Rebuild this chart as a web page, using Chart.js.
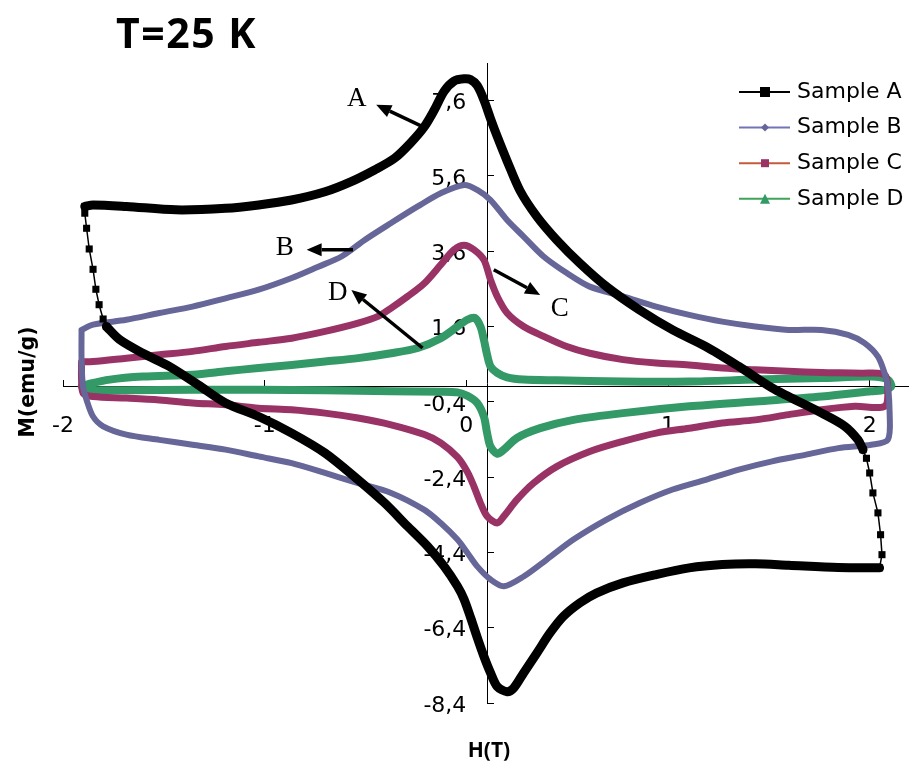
<!DOCTYPE html>
<html><head><meta charset="utf-8">
<script src="https://cdn.jsdelivr.net/npm/chart.js@4"></script>
<style>html,body{margin:0;padding:0;background:#fff;overflow:hidden}canvas{display:block}</style>
</head><body>
<canvas id="c" width="913" height="767"></canvas>
<script>
// ---- data (H in T, M in emu/g) ----
const seriesNames = ['Sample A', 'Sample B', 'Sample C', 'Sample D'];
const xTickValues = [-2, -1, 0, 1, 2];
const yTickValues = [-8.4, -6.4, -4.4, -2.4, -0.4, 1.6, 3.6, 5.6, 7.6];

const sampleA_upper = [[-1.892,4.79],[-1.851,4.83],[-1.686,4.79],[-1.440,4.70],[-1.194,4.74],[-1.030,4.83],[-0.867,4.96],[-0.701,5.18],[-0.571,5.45],[-0.455,5.76],[-0.356,6.07],[-0.276,6.48],[-0.208,6.91],[-0.159,7.35],[-0.110,7.85],[-0.061,8.12],[-0.011,8.18],[0.020,8.16],[0.054,8.00],[0.087,7.62],[0.120,7.12],[0.153,6.65],[0.202,6.00],[0.267,5.20],[0.350,4.52],[0.448,3.90],[0.563,3.28],[0.695,2.66],[0.859,2.04],[1.023,1.51],[1.187,1.07],[1.351,0.54],[1.516,-0.03],[1.598,-0.26],[1.762,-0.70],[1.877,-1.05],[1.942,-1.41],[1.967,-1.67]];
const sampleA_rightStep = [[1.967,-1.67],[1.984,-1.90],[2.000,-2.29],[2.016,-2.82],[2.041,-3.35],[2.054,-3.93],[2.061,-4.46],[2.049,-4.81]];
const sampleA_lower = [[2.049,-4.81],[1.844,-4.80],[1.598,-4.74],[1.433,-4.70],[1.269,-4.72],[1.105,-4.81],[0.941,-4.99],[0.777,-5.21],[0.645,-5.48],[0.563,-5.74],[0.481,-6.10],[0.415,-6.54],[0.350,-7.07],[0.284,-7.60],[0.235,-8.00],[0.202,-8.10],[0.153,-7.96],[0.120,-7.60],[0.087,-7.16],[0.054,-6.66],[0.021,-6.13],[-0.011,-5.65],[-0.044,-5.30],[-0.110,-4.77],[-0.192,-4.24],[-0.291,-3.71],[-0.405,-3.09],[-0.537,-2.47],[-0.701,-1.76],[-0.866,-1.23],[-1.030,-0.79],[-1.194,-0.43],[-1.330,0.05],[-1.473,0.54],[-1.604,0.89],[-1.719,1.25],[-1.785,1.60]];
const sampleA_leftStep = [[-1.785,1.60],[-1.801,1.80],[-1.821,2.18],[-1.837,2.59],[-1.851,3.12],[-1.870,3.66],[-1.883,4.21],[-1.892,4.61],[-1.892,4.79]];

const sampleB_loop = [[-1.908,1.51],[-1.851,1.65],[-1.686,1.78],[-1.522,1.96],[-1.358,2.13],[-1.194,2.35],[-1.030,2.58],[-0.866,2.89],[-0.734,3.19],[-0.619,3.46],[-0.504,3.90],[-0.373,4.35],[-0.241,4.79],[-0.127,5.14],[-0.011,5.36],[0.054,5.23],[0.120,4.96],[0.202,4.43],[0.284,3.99],[0.383,3.46],[0.498,3.02],[0.612,2.66],[0.777,2.40],[0.941,2.13],[1.105,1.91],[1.269,1.73],[1.433,1.60],[1.598,1.51],[1.762,1.51],[1.893,1.38],[1.975,1.16],[2.041,0.80],[2.074,0.36],[2.090,0.01],[2.099,-0.70],[2.090,-1.41],[2.008,-1.54],[1.844,-1.63],[1.680,-1.81],[1.516,-1.98],[1.351,-2.20],[1.187,-2.47],[1.023,-2.73],[0.859,-3.09],[0.695,-3.53],[0.531,-4.06],[0.399,-4.59],[0.284,-5.04],[0.186,-5.30],[0.120,-5.12],[0.054,-4.77],[0.005,-4.41],[-0.044,-4.06],[-0.127,-3.62],[-0.208,-3.27],[-0.373,-2.82],[-0.537,-2.56],[-0.701,-2.29],[-0.866,-2.03],[-1.030,-1.85],[-1.194,-1.67],[-1.358,-1.54],[-1.522,-1.41],[-1.686,-1.27],[-1.801,-1.05],[-1.851,-0.79],[-1.883,-0.35],[-1.901,0.01],[-1.908,0.72],[-1.908,1.51]];

const sampleC_loop = [[-1.908,0.66],[-1.851,0.67],[-1.686,0.76],[-1.522,0.85],[-1.358,0.94],[-1.194,1.07],[-1.030,1.18],[-0.866,1.29],[-0.701,1.47],[-0.537,1.69],[-0.438,1.87],[-0.373,2.09],[-0.291,2.40],[-0.208,2.75],[-0.127,3.24],[-0.061,3.64],[-0.011,3.76],[0.038,3.64],[0.087,3.37],[0.120,2.84],[0.153,2.40],[0.202,1.96],[0.284,1.60],[0.383,1.34],[0.498,1.07],[0.612,0.89],[0.777,0.72],[0.941,0.63],[1.105,0.58],[1.269,0.50],[1.433,0.45],[1.598,0.41],[1.762,0.38],[1.959,0.36],[2.074,0.32],[2.090,-0.08],[2.074,-0.52],[1.926,-0.52],[1.762,-0.61],[1.598,-0.74],[1.433,-0.88],[1.269,-0.96],[1.105,-1.10],[0.941,-1.23],[0.777,-1.45],[0.612,-1.72],[0.448,-2.12],[0.333,-2.56],[0.251,-3.00],[0.186,-3.44],[0.153,-3.62],[0.103,-3.44],[0.070,-3.09],[0.038,-2.65],[0.005,-2.26],[-0.044,-1.87],[-0.127,-1.49],[-0.208,-1.27],[-0.373,-1.01],[-0.537,-0.83],[-0.701,-0.70],[-0.866,-0.61],[-1.030,-0.57],[-1.194,-0.48],[-1.358,-0.43],[-1.522,-0.35],[-1.686,-0.30],[-1.851,-0.26],[-1.900,-0.17],[-1.908,0.19],[-1.908,0.66]];

const sampleD_loop = [[-1.906,0.01],[-1.867,0.08],[-1.768,0.19],[-1.604,0.27],[-1.358,0.32],[-1.194,0.41],[-1.030,0.50],[-0.866,0.58],[-0.701,0.67],[-0.537,0.76],[-0.373,0.89],[-0.241,1.03],[-0.127,1.29],[-0.044,1.60],[0.005,1.78],[0.042,1.83],[0.070,1.60],[0.087,1.25],[0.103,0.85],[0.120,0.54],[0.153,0.37],[0.202,0.25],[0.284,0.19],[0.448,0.17],[0.777,0.14],[1.105,0.14],[1.433,0.19],[1.762,0.23],[2.008,0.27],[2.090,0.19],[2.107,0.01],[2.074,-0.08],[2.008,-0.12],[1.762,-0.26],[1.433,-0.39],[1.105,-0.52],[0.777,-0.70],[0.531,-0.88],[0.366,-1.10],[0.251,-1.36],[0.186,-1.67],[0.153,-1.78],[0.120,-1.59],[0.103,-1.23],[0.087,-0.79],[0.054,-0.43],[0.005,-0.24],[-0.044,-0.15],[-0.127,-0.13],[-0.373,-0.12],[-0.701,-0.09],[-1.030,-0.08],[-1.358,-0.08],[-1.686,-0.09],[-1.883,-0.08],[-1.906,0.01]];

// annotation letters (positions in the layout block below)
const annotationLetters = ['A', 'B', 'C', 'D'];

// ---- helpers / styling ----
const toPts = arr => arr.map(p => ({x: p[0], y: p[1]}));
const fmtY = v => (Math.round(v * 10) / 10).toFixed(1).replace('.', ',');
const markColor = ['#000000', '#666699', '#993366', '#339966'];
const legendLine = ['#000000', '#7373B8', '#C55A3C', '#3FA35A'];

const annotLayout = [
  {text: [-0.544, 7.46], tail: [-0.217, 6.91], tip: [-0.447, 7.49]},
  {text: [-0.901, 3.50], tail: [-0.562, 3.64], tip: [-0.792, 3.64]},
  {text: [0.463, 1.885], tail: [0.136, 3.11], tip: [0.366, 2.44]},
  {text: [-0.638, 2.31], tail: [-0.217, 1.03], tip: [-0.570, 2.57]}
];

function thick(label, data, color, w) {
  return {label, data: toPts(data), showLine: true, borderColor: color, backgroundColor: color,
          borderWidth: w, pointRadius: 0, fill: false, tension: 0.3};
}
function stepSet(label, data, color) {
  return {label, data: toPts(data), showLine: true, borderColor: color, backgroundColor: color,
          borderWidth: 1.5, pointRadius: 5, pointStyle: 'rect', pointBorderWidth: 0, fill: false, tension: 0};
}

const datasets = [
  thick(seriesNames[0], sampleA_upper, markColor[0], 9),
  stepSet(seriesNames[0], sampleA_rightStep, markColor[0]),
  thick(seriesNames[0], sampleA_lower, markColor[0], 9),
  stepSet(seriesNames[0], sampleA_leftStep, markColor[0]),
  thick(seriesNames[1], sampleB_loop, markColor[1], 6),
  thick(seriesNames[2], sampleC_loop, markColor[2], 7),
  thick(seriesNames[3], sampleD_loop, markColor[3], 8)
];

function drawMarker(ctx, shape, x, y, s, color) {
  ctx.fillStyle = color;
  ctx.beginPath();
  if (shape === 'rect') { ctx.rect(x - s / 2, y - s / 2, s, s); }
  else if (shape === 'diamond') { ctx.moveTo(x, y - s / 2); ctx.lineTo(x + s / 2, y); ctx.lineTo(x, y + s / 2); ctx.lineTo(x - s / 2, y); ctx.closePath(); }
  else if (shape === 'triangle') { ctx.moveTo(x, y - s / 2); ctx.lineTo(x + s / 2, y + s / 2); ctx.lineTo(x - s / 2, y + s / 2); ctx.closePath(); }
  ctx.fill();
}

function arrow(ctx, x1, y1, x2, y2) {
  const ang = Math.atan2(y2 - y1, x2 - x1);
  const hl = 15, hw = 6.5;
  const bx = x2 - hl * Math.cos(ang), by = y2 - hl * Math.sin(ang);
  ctx.strokeStyle = '#000'; ctx.fillStyle = '#000'; ctx.lineWidth = 3.5; ctx.lineCap = 'butt';
  ctx.beginPath(); ctx.moveTo(x1, y1); ctx.lineTo(bx, by); ctx.stroke();
  ctx.beginPath();
  ctx.moveTo(x2, y2);
  ctx.lineTo(bx + hw * Math.sin(ang), by - hw * Math.cos(ang));
  ctx.lineTo(bx - hw * Math.sin(ang), by + hw * Math.cos(ang));
  ctx.closePath(); ctx.fill();
}

const decor = {
  id: 'decor',
  beforeDatasetsDraw(chart) {
    const ctx = chart.ctx, xs = chart.scales.x, ys = chart.scales.y;
    ctx.save();
    ctx.font = '22px "DejaVu Sans"';
    ctx.fillStyle = '#000'; ctx.textAlign = 'center'; ctx.textBaseline = 'middle';
    const y0 = ys.getPixelForValue(0);
    xTickValues.forEach(v => ctx.fillText(String(v), xs.getPixelForValue(v), y0 + 40));
    ctx.restore();
  },
  afterDraw(chart) {
    const ctx = chart.ctx, xs = chart.scales.x, ys = chart.scales.y;
    ctx.save();
    // title
    ctx.fillStyle = '#000';
    ctx.font = 'bold 41px "Open Sans"';
    ctx.letterSpacing = '1.5px';
    ctx.textAlign = 'left'; ctx.textBaseline = 'alphabetic';
    ctx.fillText('T=25 K', 116, 48);
    ctx.letterSpacing = '0px';
    // axis titles
    ctx.font = 'bold 21px "Open Sans"';
    ctx.textAlign = 'center';
    ctx.fillText('H(T)', 489, 757);
    ctx.save();
    ctx.translate(33.5, 382); ctx.rotate(-Math.PI / 2);
    ctx.font = 'bold 20.5px "DejaVu Sans"';
    ctx.fillText('M(emu/g)', 0, 0);
    ctx.restore();
    // legend
    const shapes = ['rect', 'diamond', 'rect', 'triangle'];
    const sizes = [10, 8, 8, 10];
    seriesNames.forEach((name, i) => {
      const y = 92 + i * 35.6;
      ctx.strokeStyle = legendLine[i]; ctx.lineWidth = 2;
      ctx.beginPath(); ctx.moveTo(739, y); ctx.lineTo(790, y); ctx.stroke();
      drawMarker(ctx, shapes[i], 765, y, sizes[i], markColor[i]);
      ctx.fillStyle = '#000';
      ctx.font = '22px "DejaVu Sans"';
      ctx.textAlign = 'left'; ctx.textBaseline = 'middle';
      ctx.fillText(name, 797, y);
    });
    // annotations
    annotLayout.forEach((a, i) => {
      ctx.fillStyle = '#000';
      ctx.font = '27px "Liberation Serif"';
      ctx.textAlign = 'center'; ctx.textBaseline = 'alphabetic';
      ctx.fillText(annotationLetters[i], xs.getPixelForValue(a.text[0]), ys.getPixelForValue(a.text[1]));
      arrow(ctx, xs.getPixelForValue(a.tail[0]), ys.getPixelForValue(a.tail[1]),
                 xs.getPixelForValue(a.tip[0]), ys.getPixelForValue(a.tip[1]));
    });
    ctx.restore();
  }
};

new Chart(document.getElementById('c'), {
  type: 'scatter',
  data: {datasets},
  plugins: [decor],
  options: {
    responsive: false, animation: false, events: [],
    layout: {padding: {left: 63, right: 0, top: 63, bottom: 64}},
    plugins: {legend: {display: false}, tooltip: {enabled: false}, title: {display: false}},
    elements: {line: {borderCapStyle: 'round', borderJoinStyle: 'round'}},
    scales: {
      x: {
        type: 'linear', position: {y: 0}, min: -2, max: 2.19,
        afterBuildTicks: s => { s.ticks = xTickValues.map(v => ({value: v})); },
        ticks: {display: false},
        grid: {drawOnChartArea: false, drawTicks: true, tickLength: -7, color: '#000', lineWidth: 1},
        border: {display: true, color: '#000', width: 1}
      },
      y: {
        type: 'linear', position: {x: 0}, min: -8.4, max: 8.6,
        afterBuildTicks: s => { s.ticks = yTickValues.map(v => ({value: v})); },
        ticks: {display: true, callback: v => fmtY(v), font: {family: 'DejaVu Sans', size: 22}, color: '#000', labelOffset: 3, padding: 0},
        grid: {display: false}, border: {display: false}
      },
      y2: {
        type: 'linear', axis: 'y', position: {x: 0.105}, min: -8.4, max: 8.6,
        afterBuildTicks: s => { s.ticks = yTickValues.map(v => ({value: v})); },
        ticks: {display: false},
        grid: {drawOnChartArea: false, drawTicks: true, tickLength: -7, color: '#000', lineWidth: 1},
        border: {display: true, color: '#000', width: 1}
      }
    }
  }
});
</script>
</body></html>
